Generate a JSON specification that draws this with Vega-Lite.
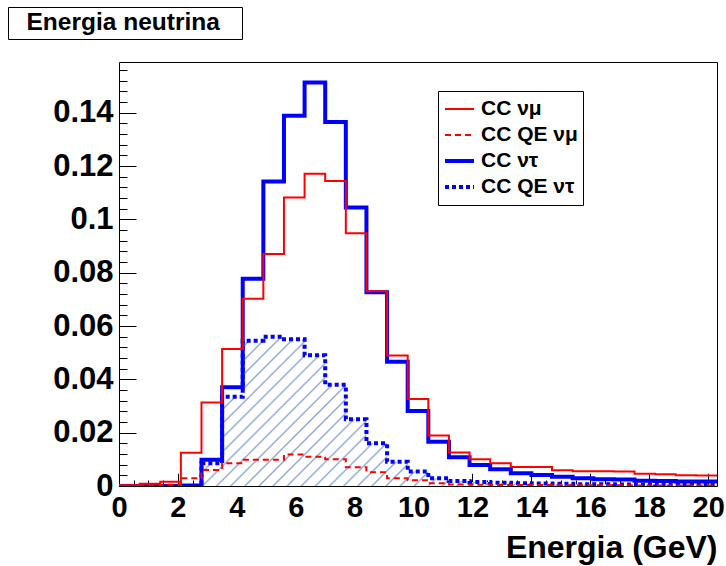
{
  "$schema": "https://vega.github.io/schema/vega-lite/v6.json",
  "width": 598,
  "height": 424,
  "autosize": "none",
  "padding": {"left": 119, "top": 62, "right": 9, "bottom": 80},
  "background": "white",
  "config": {
    "view": {"stroke": "black", "strokeWidth": 1},
    "font": "Liberation Sans",
    "axis": {"grid": false, "domain": false, "labelColor": "black", "tickColor": "black", "titleColor": "black", "labelFont": "Liberation Sans", "titleFont": "Liberation Sans", "labelFontWeight": "bold", "titleFontWeight": "bold"},
    "legend": {"orient": "none", "symbolType": "stroke", "labelFontWeight": "bold", "labelFont": "Liberation Sans", "labelColor": "black", "strokeColor": "black", "fillColor": "white", "rowPadding": 0, "cornerRadius": 0, "labelLimit": 400}
  },
  "data": {"values": [
    {"s":"CC QE ντ","x0":0,"x1":0.7,"v":0},
    {"s":"CC QE ντ","x0":0.7,"x1":1.4,"v":0},
    {"s":"CC QE ντ","x0":1.4,"x1":2.1,"v":0},
    {"s":"CC QE ντ","x0":2.1,"x1":2.8,"v":0},
    {"s":"CC QE ντ","x0":2.8,"x1":3.5,"v":0.0085},
    {"s":"CC QE ντ","x0":3.5,"x1":4.2,"v":0.0335},
    {"s":"CC QE ντ","x0":4.2,"x1":4.9,"v":0.0545},
    {"s":"CC QE ντ","x0":4.9,"x1":5.6,"v":0.056},
    {"s":"CC QE ντ","x0":5.6,"x1":6.3,"v":0.055},
    {"s":"CC QE ντ","x0":6.3,"x1":7,"v":0.049},
    {"s":"CC QE ντ","x0":7,"x1":7.7,"v":0.038},
    {"s":"CC QE ντ","x0":7.7,"x1":8.4,"v":0.025},
    {"s":"CC QE ντ","x0":8.4,"x1":9.1,"v":0.016},
    {"s":"CC QE ντ","x0":9.1,"x1":9.8,"v":0.0091},
    {"s":"CC QE ντ","x0":9.8,"x1":10.5,"v":0.0054},
    {"s":"CC QE ντ","x0":10.5,"x1":11.2,"v":0.0029},
    {"s":"CC QE ντ","x0":11.2,"x1":11.9,"v":0.0019},
    {"s":"CC QE ντ","x0":11.9,"x1":12.6,"v":0.0015},
    {"s":"CC QE ντ","x0":12.6,"x1":13.3,"v":0.0012},
    {"s":"CC QE ντ","x0":13.3,"x1":14,"v":0.001},
    {"s":"CC QE ντ","x0":14,"x1":14.7,"v":0.0009},
    {"s":"CC QE ντ","x0":14.7,"x1":15.4,"v":0.0008},
    {"s":"CC QE ντ","x0":15.4,"x1":16.1,"v":0.0007},
    {"s":"CC QE ντ","x0":16.1,"x1":16.8,"v":0.0007},
    {"s":"CC QE ντ","x0":16.8,"x1":17.5,"v":0.0006},
    {"s":"CC QE ντ","x0":17.5,"x1":18.2,"v":0.0006},
    {"s":"CC QE ντ","x0":18.2,"x1":18.9,"v":0.0005},
    {"s":"CC QE ντ","x0":18.9,"x1":19.6,"v":0.0005},
    {"s":"CC QE ντ","x0":19.6,"x1":20.3,"v":0.0005},
    {"s":"CC ντ","x0":0,"x1":0.7,"v":0},
    {"s":"CC ντ","x0":0.7,"x1":1.4,"v":0},
    {"s":"CC ντ","x0":1.4,"x1":2.1,"v":0},
    {"s":"CC ντ","x0":2.1,"x1":2.8,"v":0.0002},
    {"s":"CC ντ","x0":2.8,"x1":3.5,"v":0.0098},
    {"s":"CC ντ","x0":3.5,"x1":4.2,"v":0.037},
    {"s":"CC ντ","x0":4.2,"x1":4.9,"v":0.0777},
    {"s":"CC ντ","x0":4.9,"x1":5.6,"v":0.1142},
    {"s":"CC ντ","x0":5.6,"x1":6.3,"v":0.1388},
    {"s":"CC ντ","x0":6.3,"x1":7,"v":0.1513},
    {"s":"CC ντ","x0":7,"x1":7.7,"v":0.1365},
    {"s":"CC ντ","x0":7.7,"x1":8.4,"v":0.1044},
    {"s":"CC ντ","x0":8.4,"x1":9.1,"v":0.0727},
    {"s":"CC ντ","x0":9.1,"x1":9.8,"v":0.0466},
    {"s":"CC ντ","x0":9.8,"x1":10.5,"v":0.0281},
    {"s":"CC ντ","x0":10.5,"x1":11.2,"v":0.0166},
    {"s":"CC ντ","x0":11.2,"x1":11.9,"v":0.0108},
    {"s":"CC ντ","x0":11.9,"x1":12.6,"v":0.0079},
    {"s":"CC ντ","x0":12.6,"x1":13.3,"v":0.0063},
    {"s":"CC ντ","x0":13.3,"x1":14,"v":0.0048},
    {"s":"CC ντ","x0":14,"x1":14.7,"v":0.0041},
    {"s":"CC ντ","x0":14.7,"x1":15.4,"v":0.0035},
    {"s":"CC ντ","x0":15.4,"x1":16.1,"v":0.0029},
    {"s":"CC ντ","x0":16.1,"x1":16.8,"v":0.0025},
    {"s":"CC ντ","x0":16.8,"x1":17.5,"v":0.0024},
    {"s":"CC ντ","x0":17.5,"x1":18.2,"v":0.002},
    {"s":"CC ντ","x0":18.2,"x1":18.9,"v":0.0019},
    {"s":"CC ντ","x0":18.9,"x1":19.6,"v":0.0017},
    {"s":"CC ντ","x0":19.6,"x1":20.3,"v":0.0017},
    {"s":"CC QE νμ","x0":0,"x1":0.7,"v":0},
    {"s":"CC QE νμ","x0":0.7,"x1":1.4,"v":0.0002},
    {"s":"CC QE νμ","x0":1.4,"x1":2.1,"v":0.0005},
    {"s":"CC QE νμ","x0":2.1,"x1":2.8,"v":0.0029},
    {"s":"CC QE νμ","x0":2.8,"x1":3.5,"v":0.006},
    {"s":"CC QE νμ","x0":3.5,"x1":4.2,"v":0.0085},
    {"s":"CC QE νμ","x0":4.2,"x1":4.9,"v":0.0098},
    {"s":"CC QE νμ","x0":4.9,"x1":5.6,"v":0.0098},
    {"s":"CC QE νμ","x0":5.6,"x1":6.3,"v":0.0118},
    {"s":"CC QE νμ","x0":6.3,"x1":7,"v":0.011},
    {"s":"CC QE νμ","x0":7,"x1":7.7,"v":0.01},
    {"s":"CC QE νμ","x0":7.7,"x1":8.4,"v":0.007},
    {"s":"CC QE νμ","x0":8.4,"x1":9.1,"v":0.0052},
    {"s":"CC QE νμ","x0":9.1,"x1":9.8,"v":0.0029},
    {"s":"CC QE νμ","x0":9.8,"x1":10.5,"v":0.0022},
    {"s":"CC QE νμ","x0":10.5,"x1":11.2,"v":0.001},
    {"s":"CC QE νμ","x0":11.2,"x1":11.9,"v":0.0006},
    {"s":"CC QE νμ","x0":11.9,"x1":12.6,"v":0.0005},
    {"s":"CC QE νμ","x0":12.6,"x1":13.3,"v":0.0004},
    {"s":"CC QE νμ","x0":13.3,"x1":14,"v":0.0004},
    {"s":"CC QE νμ","x0":14,"x1":14.7,"v":0.0004},
    {"s":"CC QE νμ","x0":14.7,"x1":15.4,"v":0.0003},
    {"s":"CC QE νμ","x0":15.4,"x1":16.1,"v":0.0003},
    {"s":"CC QE νμ","x0":16.1,"x1":16.8,"v":0.0003},
    {"s":"CC QE νμ","x0":16.8,"x1":17.5,"v":0.0003},
    {"s":"CC QE νμ","x0":17.5,"x1":18.2,"v":0.0002},
    {"s":"CC QE νμ","x0":18.2,"x1":18.9,"v":0.0002},
    {"s":"CC QE νμ","x0":18.9,"x1":19.6,"v":0.0002},
    {"s":"CC QE νμ","x0":19.6,"x1":20.3,"v":0.0002},
    {"s":"CC νμ","x0":0,"x1":0.7,"v":0.0003},
    {"s":"CC νμ","x0":0.7,"x1":1.4,"v":0.0008},
    {"s":"CC νμ","x0":1.4,"x1":2.1,"v":0.0016},
    {"s":"CC νμ","x0":2.1,"x1":2.8,"v":0.0125},
    {"s":"CC νμ","x0":2.8,"x1":3.5,"v":0.0313},
    {"s":"CC νμ","x0":3.5,"x1":4.2,"v":0.0514},
    {"s":"CC νμ","x0":4.2,"x1":4.9,"v":0.0702},
    {"s":"CC νμ","x0":4.9,"x1":5.6,"v":0.087},
    {"s":"CC νμ","x0":5.6,"x1":6.3,"v":0.1082},
    {"s":"CC νμ","x0":6.3,"x1":7,"v":0.1171},
    {"s":"CC νμ","x0":7,"x1":7.7,"v":0.1144},
    {"s":"CC νμ","x0":7.7,"x1":8.4,"v":0.0948},
    {"s":"CC νμ","x0":8.4,"x1":9.1,"v":0.073},
    {"s":"CC νμ","x0":9.1,"x1":9.8,"v":0.0489},
    {"s":"CC νμ","x0":9.8,"x1":10.5,"v":0.0326},
    {"s":"CC νμ","x0":10.5,"x1":11.2,"v":0.0189},
    {"s":"CC νμ","x0":11.2,"x1":11.9,"v":0.0126},
    {"s":"CC νμ","x0":11.9,"x1":12.6,"v":0.01},
    {"s":"CC νμ","x0":12.6,"x1":13.3,"v":0.0085},
    {"s":"CC νμ","x0":13.3,"x1":14,"v":0.0071},
    {"s":"CC νμ","x0":14,"x1":14.7,"v":0.0071},
    {"s":"CC νμ","x0":14.7,"x1":15.4,"v":0.0059},
    {"s":"CC νμ","x0":15.4,"x1":16.1,"v":0.0055},
    {"s":"CC νμ","x0":16.1,"x1":16.8,"v":0.0055},
    {"s":"CC νμ","x0":16.8,"x1":17.5,"v":0.0054},
    {"s":"CC νμ","x0":17.5,"x1":18.2,"v":0.0046},
    {"s":"CC νμ","x0":18.2,"x1":18.9,"v":0.0044},
    {"s":"CC νμ","x0":18.9,"x1":19.6,"v":0.004},
    {"s":"CC νμ","x0":19.6,"x1":20.3,"v":0.0039}
  ]},
  "transform": [{"fold": ["x0", "x1"], "as": ["edge", "x"]}],
  "resolve": {"axis": {"x": "independent", "y": "independent"}},
  "layer": [
    {
      "transform": [{"filter": {"field": "s", "equal": "CC QE ντ"}}],
      "mark": {"type": "area", "interpolate": "linear", "clip": true,
        "fill": {"gradient": "linear", "x1": 0, "y1": 0, "x2": 1, "y2": 0.25, "stops": [
          {"offset":0.0081,"color":"white"},{"offset":0.0111,"color":"#88a4d8"},{"offset":0.0141,"color":"white"},
          {"offset":0.0303,"color":"white"},{"offset":0.0333,"color":"#88a4d8"},{"offset":0.0363,"color":"white"},
          {"offset":0.0526,"color":"white"},{"offset":0.0556,"color":"#88a4d8"},{"offset":0.0586,"color":"white"},
          {"offset":0.0748,"color":"white"},{"offset":0.0778,"color":"#88a4d8"},{"offset":0.0808,"color":"white"},
          {"offset":0.097,"color":"white"},{"offset":0.1,"color":"#88a4d8"},{"offset":0.103,"color":"white"},
          {"offset":0.1192,"color":"white"},{"offset":0.1222,"color":"#88a4d8"},{"offset":0.1252,"color":"white"},
          {"offset":0.1414,"color":"white"},{"offset":0.1444,"color":"#88a4d8"},{"offset":0.1474,"color":"white"},
          {"offset":0.1637,"color":"white"},{"offset":0.1667,"color":"#88a4d8"},{"offset":0.1697,"color":"white"},
          {"offset":0.1859,"color":"white"},{"offset":0.1889,"color":"#88a4d8"},{"offset":0.1919,"color":"white"},
          {"offset":0.2081,"color":"white"},{"offset":0.2111,"color":"#88a4d8"},{"offset":0.2141,"color":"white"},
          {"offset":0.2303,"color":"white"},{"offset":0.2333,"color":"#88a4d8"},{"offset":0.2363,"color":"white"},
          {"offset":0.2526,"color":"white"},{"offset":0.2556,"color":"#88a4d8"},{"offset":0.2586,"color":"white"},
          {"offset":0.2748,"color":"white"},{"offset":0.2778,"color":"#88a4d8"},{"offset":0.2808,"color":"white"},
          {"offset":0.297,"color":"white"},{"offset":0.3,"color":"#88a4d8"},{"offset":0.303,"color":"white"},
          {"offset":0.3192,"color":"white"},{"offset":0.3222,"color":"#88a4d8"},{"offset":0.3252,"color":"white"},
          {"offset":0.3414,"color":"white"},{"offset":0.3444,"color":"#88a4d8"},{"offset":0.3474,"color":"white"},
          {"offset":0.3637,"color":"white"},{"offset":0.3667,"color":"#88a4d8"},{"offset":0.3697,"color":"white"},
          {"offset":0.3859,"color":"white"},{"offset":0.3889,"color":"#88a4d8"},{"offset":0.3919,"color":"white"},
          {"offset":0.4081,"color":"white"},{"offset":0.4111,"color":"#88a4d8"},{"offset":0.4141,"color":"white"},
          {"offset":0.4303,"color":"white"},{"offset":0.4333,"color":"#88a4d8"},{"offset":0.4363,"color":"white"},
          {"offset":0.4526,"color":"white"},{"offset":0.4556,"color":"#88a4d8"},{"offset":0.4586,"color":"white"},
          {"offset":0.4748,"color":"white"},{"offset":0.4778,"color":"#88a4d8"},{"offset":0.4808,"color":"white"},
          {"offset":0.497,"color":"white"},{"offset":0.5,"color":"#88a4d8"},{"offset":0.503,"color":"white"},
          {"offset":0.5192,"color":"white"},{"offset":0.5222,"color":"#88a4d8"},{"offset":0.5252,"color":"white"},
          {"offset":0.5414,"color":"white"},{"offset":0.5444,"color":"#88a4d8"},{"offset":0.5474,"color":"white"},
          {"offset":0.5637,"color":"white"},{"offset":0.5667,"color":"#88a4d8"},{"offset":0.5697,"color":"white"},
          {"offset":0.5859,"color":"white"},{"offset":0.5889,"color":"#88a4d8"},{"offset":0.5919,"color":"white"},
          {"offset":0.6081,"color":"white"},{"offset":0.6111,"color":"#88a4d8"},{"offset":0.6141,"color":"white"},
          {"offset":0.6303,"color":"white"},{"offset":0.6333,"color":"#88a4d8"},{"offset":0.6363,"color":"white"},
          {"offset":0.6526,"color":"white"},{"offset":0.6556,"color":"#88a4d8"},{"offset":0.6586,"color":"white"},
          {"offset":0.6748,"color":"white"},{"offset":0.6778,"color":"#88a4d8"},{"offset":0.6808,"color":"white"},
          {"offset":0.697,"color":"white"},{"offset":0.7,"color":"#88a4d8"},{"offset":0.703,"color":"white"},
          {"offset":0.7192,"color":"white"},{"offset":0.7222,"color":"#88a4d8"},{"offset":0.7252,"color":"white"},
          {"offset":0.7414,"color":"white"},{"offset":0.7444,"color":"#88a4d8"},{"offset":0.7474,"color":"white"},
          {"offset":0.7637,"color":"white"},{"offset":0.7667,"color":"#88a4d8"},{"offset":0.7697,"color":"white"},
          {"offset":0.7859,"color":"white"},{"offset":0.7889,"color":"#88a4d8"},{"offset":0.7919,"color":"white"},
          {"offset":0.8081,"color":"white"},{"offset":0.8111,"color":"#88a4d8"},{"offset":0.8141,"color":"white"},
          {"offset":0.8303,"color":"white"},{"offset":0.8333,"color":"#88a4d8"},{"offset":0.8363,"color":"white"},
          {"offset":0.8526,"color":"white"},{"offset":0.8556,"color":"#88a4d8"},{"offset":0.8586,"color":"white"},
          {"offset":0.8748,"color":"white"},{"offset":0.8778,"color":"#88a4d8"},{"offset":0.8808,"color":"white"},
          {"offset":0.897,"color":"white"},{"offset":0.9,"color":"#88a4d8"},{"offset":0.903,"color":"white"},
          {"offset":0.9192,"color":"white"},{"offset":0.9222,"color":"#88a4d8"},{"offset":0.9252,"color":"white"},
          {"offset":0.9414,"color":"white"},{"offset":0.9444,"color":"#88a4d8"},{"offset":0.9474,"color":"white"},
          {"offset":0.9637,"color":"white"},{"offset":0.9667,"color":"#88a4d8"},{"offset":0.9697,"color":"white"},
          {"offset":0.9859,"color":"white"},{"offset":0.9889,"color":"#88a4d8"},{"offset":0.9919,"color":"white"}
        ]}},
      "encoding": {
        "x": {"field": "x", "type": "quantitative", "scale": {"domain": [0, 20.3], "nice": false, "zero": false},
          "axis": {"orient": "bottom", "values": [0,2,4,6,8,10,12,14,16,18,20], "format": "~g", "ticks": false, "labelFontSize": 29, "labelPadding": 7, "labelFlush": false, "labelOverlap": false, "labelBound": false, "title": "Energia (GeV)", "titleFontSize": 32, "titleAnchor": "end", "titlePadding": 10}},
        "y": {"field": "v", "type": "quantitative", "stack": null, "scale": {"domain": [0, 0.159], "nice": false, "zero": false},
          "axis": {"orient": "left", "values": [0,0.02,0.04,0.06,0.08,0.1,0.12,0.14], "format": "~g", "ticks": false, "labelFontSize": 31, "labelPadding": 6, "labelFlush": false, "labelOverlap": false, "labelBound": false, "title": null}},
        "opacity": {"field": "s", "type": "ordinal", "scale": {"range": [1]},
          "legend": {"title": null, "legendX": -111, "legendY": -55, "symbolType": "square", "symbolSize": 0, "symbolOpacity": 0, "labelOffset": -10, "labelFontSize": 24.5, "padding": 4, "labelExpr": "'Energia neutrina\u2800'"}}
      }
    },
    {
      "transform": [{"filter": {"field": "s", "oneOf": ["CC QE ντ", "CC ντ"]}}],
      "mark": {"type": "line", "interpolate": "linear", "clip": true, "strokeCap": "butt", "strokeJoin": "miter"},
      "encoding": {
        "x": {"field": "x", "type": "quantitative",
          "axis": {"orient": "bottom", "values": [0,2,4,6,8,10,12,14,16,18,20], "labels": false, "tickSize": -12.7, "title": null}},
        "y": {"field": "v", "type": "quantitative",
          "axis": {"orient": "left", "values": [0,0.02,0.04,0.06,0.08,0.1,0.12,0.14], "labels": false, "tickSize": -17, "title": null}},
        "stroke": {"field": "s", "type": "nominal", "scale": {"domain": ["CC νμ", "CC QE νμ", "CC ντ", "CC QE ντ"], "range": ["#ff0000", "#ff0000", "#0000ff", "#0000ff"]},
          "legend": {"title": null, "legendX": 319, "legendY": 29, "symbolSize": 841, "labelFontSize": 21, "padding": 5, "clipHeight": 26, "labelOffset": 5}},
        "strokeDash": {"field": "s", "type": "nominal", "scale": {"domain": ["CC νμ", "CC QE νμ", "CC ντ", "CC QE ντ"], "range": [[1, 0], [6, 4], [1, 0], [4, 3]]},
          "legend": {"title": null, "legendX": 319, "legendY": 29, "symbolSize": 841, "labelFontSize": 21, "padding": 5, "clipHeight": 26, "labelOffset": 5}},
        "strokeWidth": {"field": "s", "type": "nominal", "scale": {"type": "ordinal", "domain": ["CC νμ", "CC QE νμ", "CC ντ", "CC QE ντ"], "range": [2, 2, 4, 4]},
          "legend": {"title": null, "legendX": 319, "legendY": 29, "symbolSize": 841, "labelFontSize": 21, "padding": 5, "clipHeight": 26, "labelOffset": 5}}
      }
    },
    {
      "transform": [{"filter": {"field": "s", "oneOf": ["CC QE νμ", "CC νμ"]}}],
      "mark": {"type": "line", "interpolate": "linear", "clip": true, "strokeCap": "butt", "strokeJoin": "miter"},
      "encoding": {
        "x": {"field": "x", "type": "quantitative",
          "axis": {"orient": "bottom", "values": [0,0.5,1,1.5,2,2.5,3,3.5,4,4.5,5,5.5,6,6.5,7,7.5,8,8.5,9,9.5,10,10.5,11,11.5,12,12.5,13,13.5,14,14.5,15,15.5,16,16.5,17,17.5,18,18.5,19,19.5,20], "labels": false, "tickSize": -6, "title": null}},
        "y": {"field": "v", "type": "quantitative",
          "axis": {"orient": "left", "values": [0,0.004,0.008,0.012,0.016,0.02,0.024,0.028,0.032,0.036,0.04,0.044,0.048,0.052,0.056,0.06,0.064,0.068,0.072,0.076,0.08,0.084,0.088,0.092,0.096,0.1,0.104,0.108,0.112,0.116,0.12,0.124,0.128,0.132,0.136,0.14,0.144,0.148,0.152,0.156], "labels": false, "tickSize": -8, "title": null}},
        "stroke": {"field": "s", "type": "nominal", "scale": {"domain": ["CC νμ", "CC QE νμ", "CC ντ", "CC QE ντ"], "range": ["#ff0000", "#ff0000", "#0000ff", "#0000ff"]},
          "legend": {"title": null, "legendX": 319, "legendY": 29, "symbolSize": 841, "labelFontSize": 21, "padding": 5, "clipHeight": 26, "labelOffset": 5}},
        "strokeDash": {"field": "s", "type": "nominal", "scale": {"domain": ["CC νμ", "CC QE νμ", "CC ντ", "CC QE ντ"], "range": [[1, 0], [6, 4], [1, 0], [4, 3]]},
          "legend": {"title": null, "legendX": 319, "legendY": 29, "symbolSize": 841, "labelFontSize": 21, "padding": 5, "clipHeight": 26, "labelOffset": 5}},
        "strokeWidth": {"field": "s", "type": "nominal", "scale": {"type": "ordinal", "domain": ["CC νμ", "CC QE νμ", "CC ντ", "CC QE ντ"], "range": [2, 2, 4, 4]},
          "legend": {"title": null, "legendX": 319, "legendY": 29, "symbolSize": 841, "labelFontSize": 21, "padding": 5, "clipHeight": 26, "labelOffset": 5}}
      }
    }
  ]
}
